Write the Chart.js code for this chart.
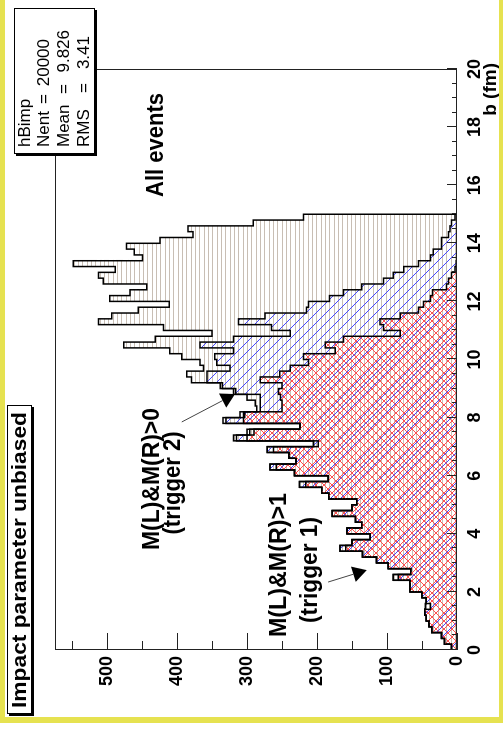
<!DOCTYPE html>
<html><head><meta charset="utf-8">
<script src="https://cdn.jsdelivr.net/npm/chart.js@4/dist/chart.umd.min.js"></script>
<style>
html,body{margin:0;padding:0;background:#fff;}
body{width:503px;height:729px;position:relative;overflow:hidden;}
#rot{position:absolute;left:0;top:0;width:729px;height:503px;transform-origin:0 0;transform:translate(0,729px) rotate(-90deg);}
.yb{position:absolute;background:rgb(230,226,80);}
</style></head><body>
<div id="rot"><canvas id="c" width="729" height="503"></canvas></div>
<div class="yb" style="left:0;top:0;width:5px;height:723px"></div>
<div class="yb" style="left:0;top:717px;width:503px;height:6px"></div>
<div class="yb" style="left:499px;top:0;width:4px;height:723px"></div>
<script>
// ---- data (impact parameter histograms, 0.2 fm bins from 0 to 15 fm) ----
const binWidth = 0.2;
const allEvents = [8,18,22,36,40,44,46,45,44,50, 67,67,91,66,98,115,135,167,150,124,
  157,136,145,178,150,143,183,193,225,184, 232,267,230,240,271,205,319,300,224,334,
  310,286,288,300,319,338,379,386,362,367, 393,410,476,431,350,419,512,493,455,411,
  496,467,443,505,512,488,548,449,461,472, 424,377,384,291,219];
const trigger2 = [8,18,22,36,40,44,46,45,44,50, 67,67,91,66,98,115,135,167,150,124,
  157,136,145,178,150,143,183,193,225,184, 232,267,230,240,271,205,315,296,224,330,
  305,281,281,281,316,335,357,357,324,343, 346,319,367,319,238,265,312,274,215,212,
  182,162,136,105,91,76,55,38,34,22, 22,12,10,8,3];
const trigger1 = [8,18,22,36,40,44,46,38,44,50, 67,67,84,66,98,115,135,159,150,124,
  157,136,145,178,150,143,183,193,216,184, 232,258,230,240,262,198,300,290,224,305,
  303,250,250,252,255,250,281,253,238,212, 219,174,188,162,81,105,110,81,55,48,
  38,35,15,12,8,3,1,0,0,0, 0,0,0,0,0];
const bTickLabels = [0,2,4,6,8,10,12,14,16,18,20];
const countTickLabels = [0,100,200,300,400,500];
const statsNames = ['hBimp','Nent','Mean','RMS'];
const statsValues = ['','20000','9.826','3.41'];
const seriesLabels = ['All events','M(L)&M(R)>0','M(L)&M(R)>1'];

const FONT = "'Liberation Sans', Arial, Helvetica, sans-serif";
const canvas = document.getElementById('c');
const cctx = canvas.getContext('2d');

function makePattern(w, h, draw){
  const c = document.createElement('canvas'); c.width = w; c.height = h;
  const g = c.getContext('2d'); draw(g); return cctx.createPattern(c, 'repeat');
}
const patBeige = makePattern(4, 13, g => { g.fillStyle = 'rgb(200,190,180)'; [0,4,9].forEach(r => g.fillRect(0,r,4,1)); });
const patBlue = makePattern(10, 10, g => { g.fillStyle = 'rgb(70,70,255)'; for (let i=0;i<10;i++) g.fillRect(i,i,1,1); });
const patRed = makePattern(8, 8, g => { g.fillStyle = 'rgb(255,80,80)';
  for (let i=0;i<8;i++){ g.fillRect(i,i,1,1); g.fillRect(7-i,i,1,1); } });

function histPoints(vals){
  const pts = [{x:0, y:0}];
  vals.forEach((v,i) => pts.push({x:(i+1)*binWidth, y:v}));
  pts.push({x:vals.length*binWidth, y:0});
  return pts;
}

function txt(ctx, s, u, v, font, align, width){
  ctx.font = font; ctx.textAlign = 'left'; ctx.textBaseline = 'alphabetic';
  const w = ctx.measureText(s).width;
  const sx = width ? width / w : 1;
  let x0 = u;
  if (align === 'center') x0 = u - w*sx/2; else if (align === 'right') x0 = u - w*sx;
  ctx.save(); ctx.translate(x0, v); ctx.scale(sx, 1); ctx.fillText(s, 0, 0); ctx.restore();
}

function arrow(ctx, x, y, from, to, headLen, halfW){
  const x0 = x.getPixelForValue(from[0]), y0 = y.getPixelForValue(from[1]);
  const x1 = x.getPixelForValue(to[0]), y1 = y.getPixelForValue(to[1]);
  const dx = x1-x0, dy = y1-y0, L = Math.hypot(dx,dy), ux = dx/L, uy = dy/L;
  const bx = x1 - ux*headLen, by = y1 - uy*headLen;
  ctx.strokeStyle = '#444'; ctx.lineWidth = 1;
  ctx.beginPath(); ctx.moveTo(x0,y0); ctx.lineTo(bx,by); ctx.stroke();
  ctx.fillStyle = '#000';
  ctx.beginPath(); ctx.moveTo(x1,y1); ctx.lineTo(bx - uy*halfW, by + ux*halfW); ctx.lineTo(bx + uy*halfW, by - ux*halfW); ctx.closePath(); ctx.fill();
}

function pave(ctx, l, t, r, b){
  ctx.fillStyle = '#000'; ctx.fillRect(l-2, t+2, r-l, b-t);
  ctx.fillStyle = '#fff'; ctx.fillRect(l, t, r-l, b-t);
  ctx.strokeStyle = '#000'; ctx.lineWidth = 1; ctx.strokeRect(l+0.5, t+0.5, r-l-1, b-t-1);
}

const decor = {
  id: 'decor',
  afterDraw(chart){
    const {ctx, chartArea: a, scales: {x, y}} = chart;
    ctx.save();
    // frame
    ctx.strokeStyle = '#222'; ctx.lineWidth = 1;
    ctx.strokeRect(a.left+0.5, a.top+0.5, a.right-a.left-1, a.bottom-a.top-1);
    // inward ticks
    ctx.beginPath();
    for (let b = 0; b <= 20.001; b += 0.5){
      const px = Math.round(x.getPixelForValue(b)) + 0.5;
      const len = (Math.abs(b/2 - Math.round(b/2)) < 1e-6) ? 10 : 5;
      ctx.moveTo(px, a.bottom); ctx.lineTo(px, a.bottom - len);
    }
    for (let c = 0; c <= 550; c += 50){
      const py = Math.round(y.getPixelForValue(c)) + 0.5;
      const len = (c % 100 === 0) ? 17 : 9;
      ctx.moveTo(a.left, py); ctx.lineTo(a.left + len, py);
    }
    ctx.stroke();
    // axis title
    ctx.fillStyle = '#000';
    txt(ctx, 'b (fm)', 666, 496, 'bold 19px ' + FONT, 'right');
    // annotations
    const bf = 'bold 23px ' + FONT;
    txt(ctx, seriesLabels[0], 584, 163, bf, 'center', 104);
    txt(ctx, seriesLabels[1], 250, 159, bf, 'center', 142);
    txt(ctx, '(trigger 2)', 246, 180, bf, 'center', 103);
    txt(ctx, seriesLabels[2], 164, 286, bf, 'center', 144);
    txt(ctx, '(trigger 1)', 159, 317, bf, 'center', 106);
    arrow(ctx, x, y, [7.85, 393], [8.81, 317], 14, 8);
    arrow(ctx, x, y, [2.34, 184], [2.75, 129], 14, 8);
    // title pave
    pave(ctx, 15, 7, 324, 32);
    ctx.fillStyle = '#000';
    txt(ctx, 'Impact parameter unbiased', 169, 26, 'bold 20px ' + FONT, 'center', 296);
    // stats pave
    pave(ctx, 575, 14, 721, 95);
    ctx.fillStyle = '#000';
    const sf = '17px ' + FONT;
    const rows = [30, 49, 69, 89];
    const eqPos = [0, 630, 640, 641];
    const valEnd = [0, 690, 699, 693];
    statsNames.forEach((n, i) => {
      txt(ctx, n, 582, rows[i], sf, 'left');
      if (statsValues[i]){
        txt(ctx, '=', eqPos[i], rows[i], sf, 'center');
        txt(ctx, statsValues[i], valEnd[i], rows[i], sf, 'right');
      }
    });
    ctx.restore();
  }
};

const tickFont = {family: FONT, size: 18, weight: 'bold'};
new Chart(canvas, {
  type: 'line',
  data: { datasets: [
    {label: seriesLabels[0], data: histPoints(allEvents), order: 3, fill: 'origin', backgroundColor: patBeige,
     borderColor: '#000', borderWidth: 1.5, stepped: 'after', pointRadius: 0},
    {label: seriesLabels[1], data: histPoints(trigger2), order: 2, fill: 'origin', backgroundColor: patBlue,
     borderColor: '#000', borderWidth: 1.5, stepped: 'after', pointRadius: 0},
    {label: seriesLabels[2], data: histPoints(trigger1), order: 1, fill: 'origin', backgroundColor: patRed,
     borderColor: '#000', borderWidth: 1.5, stepped: 'after', pointRadius: 0}
  ]},
  options: {
    responsive: false, animation: false, devicePixelRatio: 1,
    layout: {padding: {top: 55, right: 69, left: 0, bottom: 0}},
    scales: {
      x: {type: 'linear', min: 0, max: 20, afterFit(s){ s.height = 46; },
          grid: {display: false, drawTicks: false}, border: {display: false},
          afterBuildTicks(s){ s.ticks = bTickLabels.map(v => ({value: v})); },
          ticks: {color: '#000', font: tickFont, padding: 7, maxRotation: 0, autoSkip: false}},
      y: {type: 'linear', min: 0, max: 574, afterFit(s){ s.width = 79; },
          grid: {display: false, drawTicks: false}, border: {display: false},
          afterBuildTicks(s){ s.ticks = countTickLabels.map(v => ({value: v})); },
          ticks: {color: '#000', font: tickFont, padding: 6, autoSkip: false}}
    },
    plugins: {legend: {display: false}, tooltip: {enabled: false}}
  },
  plugins: [decor]
});
</script>
</body></html>
